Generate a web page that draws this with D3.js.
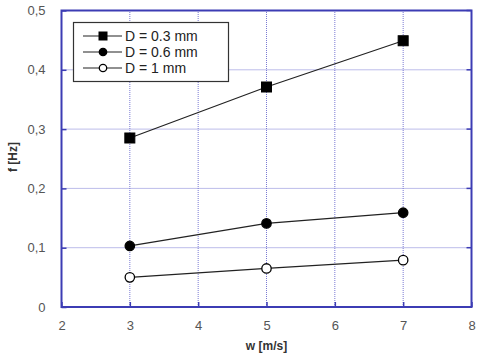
<!DOCTYPE html>
<html>
<head>
<meta charset="utf-8">
<script src="https://cdn.jsdelivr.net/npm/d3@7"></script>
<style>
body { margin: 0; background: #fff; }
text { font-family: Arial, "Liberation Sans", sans-serif; }
</style>
</head>
<body>
<div id="chart"></div>
<script>
var w = [3, 5, 7];
var seriesNames = ["D = 0.3 mm", "D = 0.6 mm", "D = 1 mm"];
var f03 = [0.285, 0.371, 0.449];
var f06 = [0.103, 0.141, 0.159];
var f10 = [0.050, 0.065, 0.079];
var xTicks = [2, 3, 4, 5, 6, 7, 8];
var yTicks = [0, 0.1, 0.2, 0.3, 0.4, 0.5];
var yTickLabels = ["0", "0,1", "0,2", "0,3", "0,4", "0,5"];

var width = 480, height = 360;
var margin = {top: 10.5, right: 8.5, bottom: 53, left: 61.5};
var frameColor = "#3c3cb4", gridColor = "#7a7ad4", textColor = "#555";

var svg = d3.select("#chart").append("svg")
	.attr("width", width)
	.attr("height", height);

var x = d3.scaleLinear().domain([2, 8]).range([margin.left, width - margin.right]);
var y = d3.scaleLinear().domain([0, 0.5]).range([height - margin.bottom, margin.top]);

// grid
var grid = svg.append("g");
grid.selectAll(".gx").data(xTicks.slice(1, -1)).enter().append("line")
	.attr("x1", d => x(d)).attr("x2", d => x(d))
	.attr("y1", y(0)).attr("y2", y(0.5))
	.attr("stroke", gridColor).attr("stroke-width", 1).attr("stroke-dasharray", "1,1");
grid.selectAll(".gy").data(yTicks.slice(1, -1)).enter().append("line")
	.attr("y1", d => y(d)).attr("y2", d => y(d))
	.attr("x1", x(2)).attr("x2", x(8))
	.attr("stroke", gridColor).attr("stroke-width", 1).attr("stroke-dasharray", "1,1");

// axes
var xAxis = svg.append("g")
	.attr("transform", "translate(0," + y(0) + ")")
	.call(d3.axisBottom(x).tickValues(xTicks).tickSize(-5).tickPadding(14)
		.tickFormat(d3.format("d")));
var yAxis = svg.append("g")
	.attr("transform", "translate(" + x(2) + ",0)")
	.call(d3.axisLeft(y).tickValues(yTicks).tickSize(-5).tickPadding(16)
		.tickFormat((d, i) => yTickLabels[i]));
[xAxis, yAxis].forEach(function(a) {
	a.select(".domain").remove();
	a.selectAll("line").attr("stroke", frameColor).attr("stroke-width", 1.5);
	a.selectAll("text").attr("fill", textColor).style("font-size", "13px");
});
// right side ticks
svg.append("g").selectAll("line").data(yTicks).enter().append("line")
	.attr("x1", x(8)).attr("x2", x(8) - 5)
	.attr("y1", d => y(d)).attr("y2", d => y(d))
	.attr("stroke", frameColor).attr("stroke-width", 1.5);

svg.append("rect")
	.attr("x", x(2)).attr("y", y(0.5))
	.attr("width", x(8) - x(2)).attr("height", y(0) - y(0.5))
	.attr("fill", "none").attr("stroke", frameColor).attr("stroke-width", 2);

// axis titles
svg.append("text")
	.attr("x", x(5)).attr("y", 350)
	.attr("text-anchor", "middle")
	.attr("fill", "#333").style("font-size", "12px").style("font-weight", "bold")
	.text("w [m/s]");
svg.append("text")
	.attr("transform", "translate(17," + 157 + ") rotate(-90)")
	.attr("text-anchor", "middle")
	.attr("fill", "#333").style("font-size", "12px").style("font-weight", "bold")
	.text("f [Hz]");

// series
var series = [
	{name: seriesNames[0], values: f03, marker: "square", fill: "#000"},
	{name: seriesNames[1], values: f06, marker: "circle", fill: "#000"},
	{name: seriesNames[2], values: f10, marker: "circle", fill: "#fff"}
];
var line = d3.line().x((d, i) => x(w[i])).y(d => y(d));

function drawMarker(g, s, cx, cy, size) {
	if (s.marker == "square") {
		g.append("rect")
			.attr("x", cx - size / 2).attr("y", cy - size / 2)
			.attr("width", size).attr("height", size)
			.attr("fill", s.fill).attr("stroke", "#000").attr("stroke-width", 1);
	} else {
		g.append("circle")
			.attr("cx", cx).attr("cy", cy).attr("r", size / 2 - 0.3)
			.attr("fill", s.fill).attr("stroke", "#000").attr("stroke-width", 1.3);
	}
}

series.forEach(function(s) {
	var g = svg.append("g");
	g.append("path")
		.datum(s.values)
		.attr("d", line)
		.attr("fill", "none").attr("stroke", "#222").attr("stroke-width", 1.2);
	s.values.forEach(function(v, i) { drawMarker(g, s, x(w[i]), y(v), 10); });
});

// legend
var lg = svg.append("g");
lg.append("rect")
	.attr("x", 73.5).attr("y", 22.5).attr("width", 155).attr("height", 59)
	.attr("fill", "#fff").attr("stroke", "#333").attr("stroke-width", 1.2);
series.forEach(function(s, i) {
	var ly = 36 + i * 16;
	lg.append("line")
		.attr("x1", 83).attr("x2", 122).attr("y1", ly).attr("y2", ly)
		.attr("stroke", "#222").attr("stroke-width", 1.2);
	drawMarker(lg, s, 103, ly, 8);
	lg.append("text")
		.attr("x", 125).attr("y", ly + 5)
		.attr("fill", "#222").style("font-size", "14px")
		.text(s.name);
});
</script>
</body>
</html>
